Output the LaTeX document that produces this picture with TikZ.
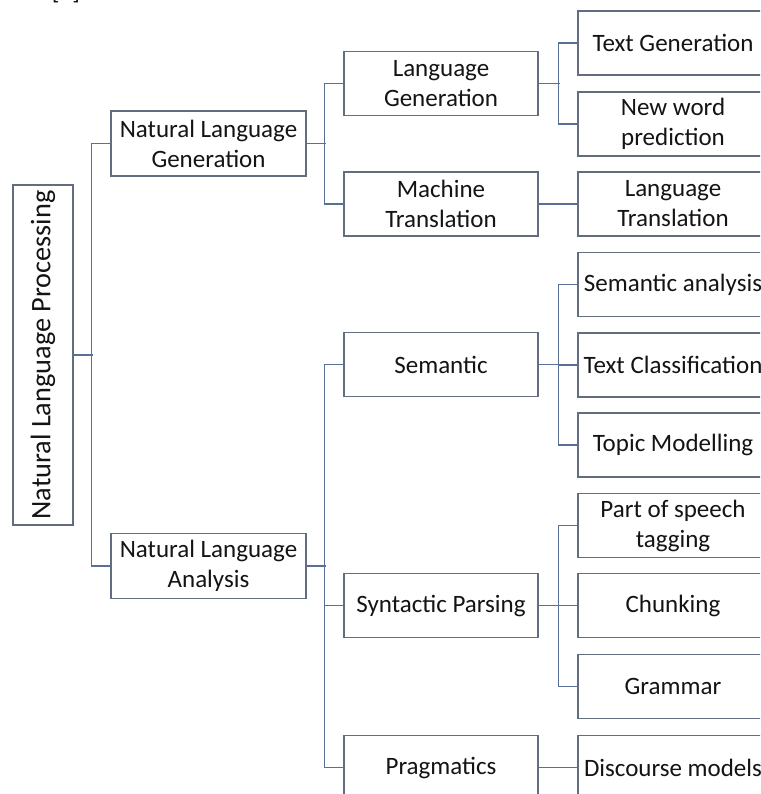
\documentclass[tikz,border=0pt]{standalone}
\usepackage{fontspec}
\setmainfont{Carlito}
\begin{document}
\begin{tikzpicture}[x=1pt,y=-1pt,
  boxstyle/.style={draw=boxcol, line width=1.1pt, fill=white, inner sep=2pt, align=center,
    text=txtcol, font=\fontsize{25}{30}\selectfont},
  lone/.style={boxstyle, minimum width=195pt, minimum height=65pt},
  ltwo/.style={boxstyle, minimum width=194pt, minimum height=64pt},
  lthree/.style={boxstyle, minimum width=190pt, minimum height=64pt},
  conn/.style={draw=conncol, line width=1.1pt}]
\definecolor{boxcol}{RGB}{98,110,128}
\definecolor{conncol}{RGB}{88,112,150}
\definecolor{txtcol}{RGB}{20,20,20}
\useasboundingbox (0,0) rectangle (760,794);
\clip (0,0) rectangle (760,794);
\fill[white] (0,0) rectangle (760,794);
% partially visible citation mark
\node[anchor=south, inner sep=0pt, text=txtcol, font=\fontsize{25}{30}\selectfont] (cite) at (66,3) {[1]};
% root
\node[draw=boxcol, line width=1.1pt, minimum width=60pt, minimum height=340pt, inner sep=0pt] (root) at (43,355) {};
\node[rotate=90, text=txtcol, font=\fontsize{28.3}{32}\selectfont, inner sep=0pt] (rootlabel) at (root.center) {Natural Language Processing};
% level 1
\node[lone] (nlg) at (208.5,143.5) {Natural Language\\Generation};
\node[lone] (nla) at (208.5,566) {Natural Language\\Analysis};
% level 2
\node[ltwo] (lg) at (441,83.5) {Language\\Generation};
\node[ltwo] (mt) at (441,204) {Machine\\Translation};
\node[ltwo] (sem) at (441,364.5) {Semantic};
\node[ltwo] (syn) at (441,605.5) {Syntactic Parsing};
\node[ltwo] (prag) at (441,767.5) {Pragmatics};
% level 3
\node[lthree] (tg) at (673,43) {Text Generation};
\node[lthree] (nwp) at (673,124) {New word\\prediction};
\node[lthree] (lt) at (673,204) {Language\\Translation};
\node[lthree] (sa) at (673,284.5) {Semantic analysis};
\node[lthree] (tc) at (673,365) {Text Classification};
\node[lthree] (tm) at (673,445) {Topic Modelling};
\node[lthree] (pos) at (673,525.5) {Part of speech\\tagging};
\node[lthree] (chunk) at (673,605.5) {Chunking};
\node[lthree] (gram) at (673,686.5) {Grammar};
\node[lthree] (dm) at (673,767.5) {Discourse models};
% connectors
\draw[conn] (root.east) -- ++(19,0);
\draw[conn] (nlg.west) -- ++(-19,0) |- (nla.west);
\draw[conn] (nlg.east) -- ++(19,0);
\draw[conn] (lg.west) -- ++(-19,0) |- (mt.west);
\draw[conn] (nla.east) -- ++(19,0);
\draw[conn] (sem.west) -- ++(-19,0) |- (prag.west);
\draw[conn] (syn.west) -- ++(-19,0);
\draw[conn] (lg.east) -- ++(21,0);
\draw[conn] (tg.west) -- ++(-19,0) |- (nwp.west);
\draw[conn] (mt.east) -- (lt.west);
\draw[conn] (sem.east) -- ++(21,0);
\draw[conn] (sa.west) -- ++(-19,0) |- (tm.west);
\draw[conn] (tc.west) -- ++(-19,0);
\draw[conn] (syn.east) -- ++(21,0);
\draw[conn] (pos.west) -- ++(-19,0) |- (gram.west);
\draw[conn] (chunk.west) -- ++(-19,0);
\draw[conn] (prag.east) -- (dm.west);
\end{tikzpicture}
\end{document}
